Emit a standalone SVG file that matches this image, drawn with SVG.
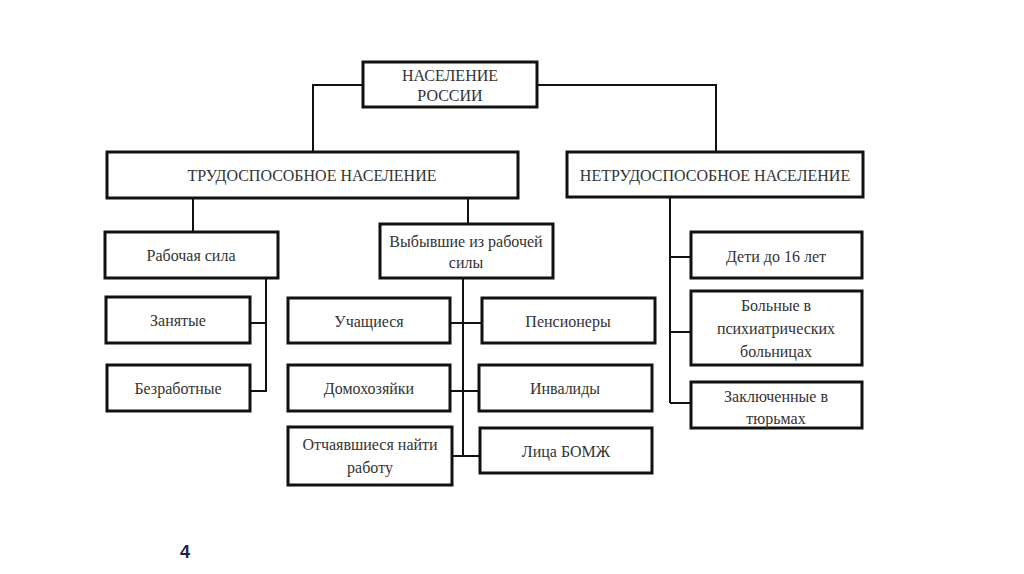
<svg xmlns="http://www.w3.org/2000/svg" width="1024" height="574" viewBox="0 0 1024 574">
<style>
.box{fill:#fff;stroke:#111;stroke-width:3}
.t{font-family:"Liberation Serif","Times New Roman",serif;font-size:16px;fill:#333;text-anchor:middle}
.c{fill:none;stroke:#111;stroke-width:2}
</style>
<rect width="1024" height="574" fill="#fff"/>
<g id="connectors">
<polyline class="c" points="363,85 313,85 313,152"/>
<polyline class="c" points="537,85 716,85 716,152"/>
<line class="c" x1="193" y1="198" x2="193" y2="232"/>
<line class="c" x1="468" y1="198" x2="468" y2="224"/>
<line class="c" x1="670" y1="197" x2="670" y2="403"/>
<line class="c" x1="670" y1="257" x2="691" y2="257"/>
<line class="c" x1="670" y1="332" x2="691" y2="332"/>
<line class="c" x1="670" y1="403" x2="691" y2="403"/>
<polyline class="c" points="266,278 266,391 250,391"/>
<line class="c" x1="250" y1="323" x2="266" y2="323"/>
<line class="c" x1="463" y1="278" x2="463" y2="456"/>
<line class="c" x1="450" y1="323" x2="482" y2="323"/>
<line class="c" x1="450" y1="391" x2="479" y2="391"/>
<line class="c" x1="452" y1="456" x2="480" y2="456"/>
</g>
<g id="n-naselenie"><rect class="box" x="363" y="62" width="174" height="45"/><text class="t" x="450" y="81">НАСЕЛЕНИЕ</text><text class="t" x="450" y="101">РОССИИ</text></g>
<g id="n-trudo"><rect class="box" x="107" y="152" width="411" height="46"/><text class="t" x="312" y="181">ТРУДОСПОСОБНОЕ НАСЕЛЕНИЕ</text></g>
<g id="n-netrudo"><rect class="box" x="567" y="152" width="296" height="45"/><text class="t" x="715" y="181">НЕТРУДОСПОСОБНОЕ НАСЕЛЕНИЕ</text></g>
<g id="n-rabochaya"><rect class="box" x="105" y="232" width="173" height="46"/><text class="t" x="191" y="261">Рабочая сила</text></g>
<g id="n-zanyatye"><rect class="box" x="106" y="297" width="144" height="46"/><text class="t" x="178" y="326">Занятые</text></g>
<g id="n-bezrab"><rect class="box" x="107" y="365" width="143" height="46"/><text class="t" x="178" y="394">Безработные</text></g>
<g id="n-vybyv"><rect class="box" x="380" y="224" width="173" height="54"/><text class="t" x="466" y="247">Выбывшие из рабочей</text><text class="t" x="466" y="268">силы</text></g>
<g id="n-uchash"><rect class="box" x="288" y="298" width="162" height="45"/><text class="t" x="369" y="327">Учащиеся</text></g>
<g id="n-pension"><rect class="box" x="482" y="298" width="173" height="45"/><text class="t" x="568" y="327">Пенсионеры</text></g>
<g id="n-domo"><rect class="box" x="288" y="365" width="162" height="46"/><text class="t" x="369" y="394">Домохозяйки</text></g>
<g id="n-invalid"><rect class="box" x="479" y="365" width="173" height="46"/><text class="t" x="565" y="394">Инвалиды</text></g>
<g id="n-otchay"><rect class="box" x="288" y="427" width="164" height="58"/><text class="t" x="370" y="450">Отчаявшиеся найти</text><text class="t" x="370" y="473">работу</text></g>
<g id="n-bomzh"><rect class="box" x="480" y="428" width="172" height="45"/><text class="t" x="566" y="457">Лица БОМЖ</text></g>
<g id="n-deti"><rect class="box" x="691" y="232" width="171" height="46"/><text class="t" x="776" y="262">Дети до 16 лет</text></g>
<g id="n-bolnye"><rect class="box" x="691" y="291" width="171" height="74"/><text class="t" x="776" y="311">Больные в</text><text class="t" x="776" y="334">психиатрических</text><text class="t" x="776" y="357">больницах</text></g>
<g id="n-zakl"><rect class="box" x="691" y="382" width="171" height="46"/><text class="t" x="776" y="402">Заключенные в</text><text class="t" x="776" y="424">тюрьмах</text></g>
<text x="185" y="558" font-family="Liberation Sans,sans-serif" font-size="18" font-weight="bold" fill="#1f1f4f" text-anchor="middle">4</text>
</svg>
